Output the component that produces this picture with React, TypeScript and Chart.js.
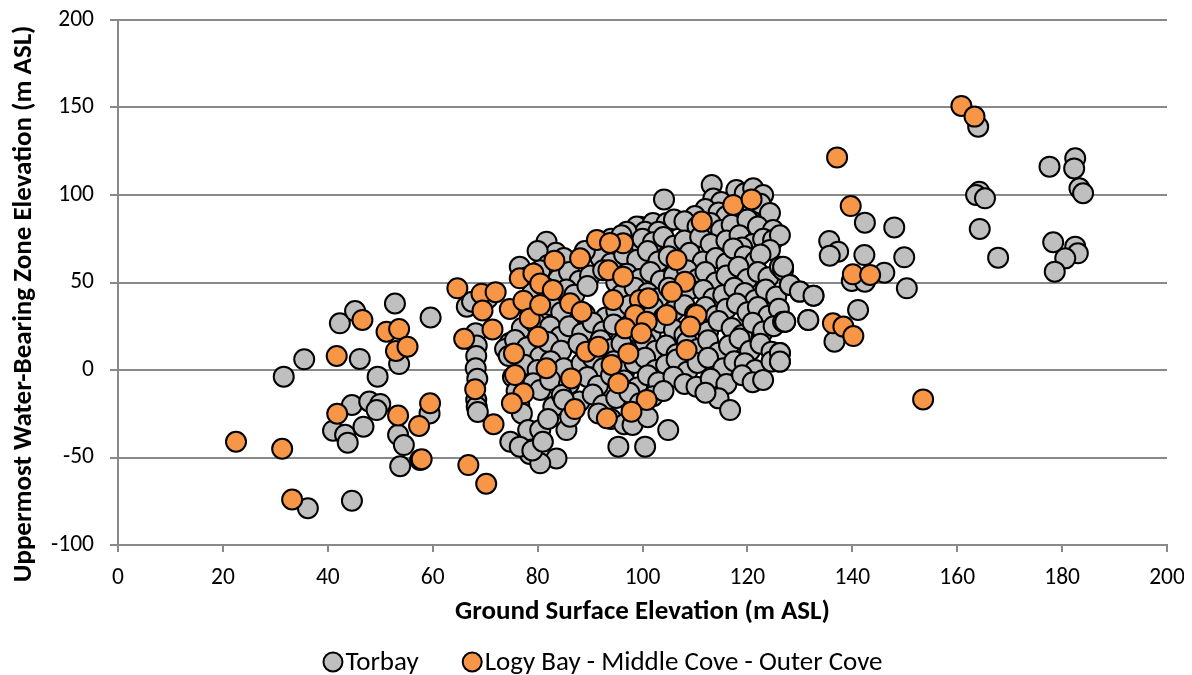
import React, { useEffect, useRef } from "react";
import { Chart, registerables } from "chart.js";

Chart.register(...registerables);

const xTickStep = 20;
const yTickStep = 50;
const xRange = [0, 200];
const yRange = [-100, 200];

const xTitle = "Ground Surface Elevation (m ASL)";
const yTitle = "Uppermost Water-Bearing Zone Elevation (m ASL)";
const seriesNames = ["Torbay", "Logy Bay - Middle Cove - Outer Cove"];

// Torbay: [ground surface elevation, water-bearing zone elevation]
const torbayPoints: [number, number][] = [
  [31.6, -3.8], [35.5, 6.1], [36.2, -79], [44.6, -74.7], [42.3, 26.7], [45.2, 33.7], [52.8, 38], [59.6, 30],
  [46.1, 6.3], [53.6, 3.4], [49.5, -3.8], [44.6, -20], [47.9, -18], [50, -19.4], [49.3, -22.9], [41, -34.7],
  [43.3, -37], [43.8, -41.5], [46.8, -32.4], [53.4, -37], [54.5, -42.9], [53.8, -55], [57.6, -51.4], [59.4, -24.8],
  [66.5, 36.2], [67.5, 39], [70.5, 41], [68.2, 21], [68.4, 14], [68.3, 8], [68.2, 1], [68.5, -5], [68.3, -17],
  [68.4, -21], [68.6, -24], [74.7, 15.4], [73.8, 12], [74.5, 8], [75.3, -4], [76.6, -9.7], [76, -12], [76.5, -20],
  [74.8, -41], [78.5, -48],
  [113.2, 105.7], [117.9, 102.9], [119.5, 101], [121.1, 103.8], [123, 100], [113.5, 98], [115, 96],
  [104.1, 97.5], [112, 92], [114.5, 90], [116, 88], [119, 91], [121, 93], [122.5, 95], [124.3, 89.7], [110, 88],
  [99.5, 81.9], [98.9, 82], [102, 84], [104.6, 84], [106, 86], [108, 85], [110.5, 82], [113, 84], [115, 80],
  [117, 83], [120, 86], [122, 82], [124.9, 80], [100.5, 79], [97, 79], [103, 79],
  [81.7, 73.3], [94, 75], [96, 77], [98, 71], [100, 75], [102, 73], [104, 76], [106, 71], [108, 74], [111, 76],
  [113, 72], [116, 74], [118.5, 77], [121, 72], [123, 75], [124.9, 74.3], [119, 70], [126.2, 77],
  [92, 64], [94, 61], [96.5, 66], [99, 63], [101, 68], [103, 62], [105, 65], [107, 60], [109, 67], [111.5, 62],
  [114, 64], [116, 61], [117.3, 69.5], [119.5, 65], [121.5, 62], [124.3, 68.6], [122.5, 66], [76.6, 59],
  [83.5, 67], [85, 64], [80, 68], [82, 60], [89, 68],
  [78, 53], [80.5, 57], [84, 52], [86, 56], [88, 51], [90, 54], [92.5, 57], [95, 50], [97, 55], [99.5, 52],
  [101.5, 56], [103.5, 51], [106, 54], [108.5, 57], [110.5, 52], [112, 56], [114, 50], [116, 54], [118.3, 59],
  [120, 52], [122, 56], [124, 53], [126.2, 59], [126.8, 57],
  [79, 44], [81.5, 47], [83.5, 41], [85.5, 46], [87, 43], [89.5, 48], [96, 43], [98.5, 47], [101, 44],
  [103, 41], [105, 47], [107, 42], [109, 46], [111.6, 45.7], [113.5, 41], [115.4, 42.9], [117.5, 47], [119.5, 44],
  [121.5, 40], [123.5, 46], [125.5, 42], [128.1, 48.6], [130, 44.8], [132.6, 42.5],
  [78.5, 35], [80.5, 31], [82.5, 37], [84.5, 33], [89, 32], [93, 30], [95, 34], [97.5, 37], [99.5, 33],
  [102, 36], [104, 30], [106, 34], [108, 37], [110, 32], [112, 36], [114, 31], [116, 35], [118, 38], [120, 33],
  [122, 36], [124, 31], [126, 35],
  [77, 24], [79.5, 27], [82.4, 24.8], [84.3, 19], [86, 25], [88.5, 21], [90.5, 27], [92.5, 22], [94.5, 26],
  [97, 21], [99, 25], [101.5, 20], [103.5, 27], [106, 23], [108, 20], [110, 26], [112.5, 22], [114.5, 28],
  [117, 24], [119, 20], [121, 27], [123, 22], [125, 25], [126.8, 27.6], [127.2, 27.6], [131.6, 28.6],
  [75.7, 17.1], [78, 13], [80.5, 7.6], [82, 16], [84.5, 11], [87.8, 15.2], [90, 10], [92, 17], [94, 12], [96, 15],
  [98.5, 10], [100.5, 16], [102.5, 11], [104.5, 14], [106.5, 9], [108.5, 16], [110.5, 12], [112.5, 17],
  [114.5, 10], [116.5, 14], [118.5, 18], [120.5, 11], [122.5, 15], [124.6, 10.5], [126.2, 9.7],
  [77.5, 3], [80, 0], [82.5, 5], [85, 1], [88.4, 3.8], [90.5, 7], [92.5, 1], [94.5, 5], [96.5, -1], [98.5, 4],
  [100.5, 7], [102.5, 0], [104.5, 3], [106.5, 6], [108.5, -1], [110.5, 4], [112.5, 7], [115.4, 1], [117.5, 5],
  [119.5, 3.8], [121.5, 0], [124.6, 4.8], [126.2, 4.8],
  [79.2, -7.6], [80.5, -11.4], [82.4, -5.7], [86, -8], [89.5, -4], [91.5, -9], [94, -3], [96.5, -6], [99, -10],
  [101, -3], [103, -7], [105.9, -3.8], [108, -8], [110.3, -9.5], [113, -5], [116, -8], [119, -3], [121, -7],
  [123, -5.7],
  [77, -24.8], [83, -21], [84.6, -14.3], [88, -18], [90.5, -14], [92.5, -20], [95, -16], [97.5, -13],
  [99.5, -19], [102, -15], [104, -12], [114.5, -16.2], [116.7, -22.9], [112, -13], [85, -17],
  [78.2, -34.3], [80.5, -34.3], [85.5, -34.3], [86.2, -26.7], [91.6, -24.8], [94, -28], [96.5, -31],
  [98.1, -31.4], [101, -27], [104.9, -34.3], [82, -28],
  [76.6, -43.8], [83.6, -50.5], [80.5, -53.3], [95.4, -43.8], [100.5, -43.8], [79, -46], [81, -41],
  [164, 139], [177.6, 116.2], [182.5, 121], [182.3, 115.2], [183.3, 103.8], [184, 101], [164.2, 101.9],
  [163.6, 100], [165.3, 98.1], [164.3, 80.6], [167.8, 64.2], [178.3, 73], [182.5, 70.5], [183, 66.7],
  [180.6, 63.8], [178.6, 56.2], [142.4, 84.2], [148, 81.5], [135.6, 73.7], [137.3, 67.6], [135.7, 65.3],
  [142.3, 65.7], [149.9, 64.4], [146.1, 55.6], [139.9, 50.9], [142.4, 50.5], [150.4, 46.7], [141.1, 34.3],
  [136.6, 16.2], [126.8, 59], [128.1, 48.6], [130, 44.8], [132.6, 42.5], [131.6, 28.6], [127.2, 27.6],
  [126.2, 9.7], [126.2, 4.8],
];

// Logy Bay - Middle Cove - Outer Cove
const logyPoints: [number, number][] = [
  [22.5, -41], [31.3, -45], [33.2, -74], [41.7, 8], [41.8, -25], [46.6, 28.6], [51.2, 21.9], [53.6, 23.4],
  [53, 10.9], [55.2, 13.3], [53.4, -26], [57.9, -51], [59.5, -19], [57.4, -32], [66.8, -54.3], [70.2, -65],
  [64.7, 46.7], [69.3, 43.6], [72, 44.5], [69.5, 34], [66, 17.8], [68.1, -11], [71.6, -31], [71.4, 23.2],
  [74.7, 34.9], [77.3, 39.6], [78.5, 29.5], [76.6, 52.4], [79.2, 55.2], [80.5, 49.5], [83.2, 62.5],
  [82.9, 45.7], [80.5, 37.1], [86.2, 38.1], [88.4, 33.3], [88.1, 63.8], [91.3, 74.3], [80.1, 19], [75.5, 9.5],
  [75.7, -2.9], [77.3, -13.3], [75.1, -19], [81.7, 1], [86.4, -4.8], [87.1, -22.3], [89.3, 10.5], [91.6, 13.3],
  [96.3, 72.4], [93.8, 72.6], [106.5, 62.9], [93.5, 57], [96.3, 53.3], [108.1, 50.5], [105.6, 44.7],
  [94.4, 40], [99.5, 40], [101.1, 41], [98.6, 31.4], [100.8, 27.6], [104.6, 31.4], [110.3, 31.4], [96.7, 23.8],
  [99.8, 21], [109.1, 24.8], [97.3, 9.5], [108.4, 11.4], [94.1, 2.9], [95.4, -7.6], [100.8, -17.1],
  [97.9, -23.8], [93.2, -27.6], [117.3, 94.3], [120.8, 97.5], [111.3, 84.8], [160.8, 150.9], [163.3, 144.8],
  [137.1, 121.5], [139.7, 93.7], [140.1, 54.7], [143.4, 54.3], [136.3, 26.7], [138.3, 24.8], [140.2, 19.4],
  [153.5, -16.8],
];

const torbayColor = "#BFBFBF";
const logyColor = "#F79646";
const gridColor = "#898989";
const FONT = "Carlito, Lato, 'Liberation Sans', sans-serif";

export default function App() {
  const canvasRef = useRef<HTMLCanvasElement | null>(null);

  useEffect(() => {
    const canvas = canvasRef.current;
    if (!canvas) return;

    const legendPlugin = {
      id: "customLegend",
      afterDraw(chart: any) {
        const ctx = chart.ctx;
        ctx.save();
        ctx.font = `27px ${FONT}`;
        ctx.textBaseline = "middle";
        const r = 9.5;
        const gapMarkerText = 3;
        const gapItems = 44;
        const items = chart.data.datasets.map((d: any) => ({
          label: d.label,
          color: d.backgroundColor,
          w: ctx.measureText(d.label).width,
        }));
        let total = 0;
        items.forEach((it: any, i: number) => {
          total += 2 * r + gapMarkerText + it.w + (i < items.length - 1 ? gapItems : 0);
        });
        let x = 595 - total / 2;
        const y = 654;
        items.forEach((it: any) => {
          ctx.beginPath();
          ctx.arc(x + r, y, r, 0, Math.PI * 2);
          ctx.fillStyle = it.color;
          ctx.fill();
          ctx.lineWidth = 2;
          ctx.strokeStyle = "#000";
          ctx.stroke();
          x += 2 * r + gapMarkerText;
          ctx.fillStyle = "#000";
          ctx.textAlign = "left";
          ctx.fillText(it.label, x, y + 1);
          x += it.w + gapItems;
        });
        ctx.restore();
      },
    };

    const chart = new Chart(canvas, {
      type: "scatter",
      data: {
        datasets: [
          {
            label: seriesNames[0],
            data: torbayPoints.map(([x, y]) => ({ x, y })),
            backgroundColor: torbayColor,
            borderColor: "#000",
            borderWidth: 2,
            pointRadius: 10,
            order: 1,
          },
          {
            label: seriesNames[1],
            data: logyPoints.map(([x, y]) => ({ x, y })),
            backgroundColor: logyColor,
            borderColor: "#000",
            borderWidth: 2,
            pointRadius: 10,
            order: 0,
          },
        ],
      },
      options: {
        animation: false,
        responsive: true,
        maintainAspectRatio: false,
        layout: { padding: { top: 12, right: 17, bottom: 40, left: 0 } },
        plugins: {
          legend: { display: false },
          tooltip: { enabled: false },
        },
        scales: {
          x: {
            type: "linear",
            min: xRange[0],
            max: xRange[1],
            ticks: { stepSize: xTickStep, color: "#000", font: { family: FONT, size: 23.5 }, padding: 12, maxRotation: 0 },
            grid: { display: true, drawOnChartArea: false, drawTicks: true, tickLength: 7, color: gridColor, lineWidth: 2 },
            border: { display: true, color: gridColor, width: 2 },
            title: {
              display: true,
              text: xTitle,
              color: "#000",
              font: { family: FONT, size: 27, weight: "bold" },
              padding: { top: 0, bottom: 7 },
            },
            afterFit: (s: any) => {
              s.height = 90;
              s.paddingLeft = 0;
              s.paddingRight = 0;
            },
          },
          y: {
            type: "linear",
            min: yRange[0],
            max: yRange[1],
            ticks: { stepSize: yTickStep, color: "#000", font: { family: FONT, size: 23.5 }, padding: 16 },
            grid: { display: true, drawTicks: true, tickLength: 8, color: gridColor, lineWidth: 2 },
            border: { display: true, color: gridColor, width: 2 },
            title: {
              display: true,
              text: yTitle + "       ",
              color: "#000",
              font: { family: FONT, size: 27, weight: "bold" },
              padding: { top: 0, bottom: 0 },
            },
            afterFit: (s: any) => {
              s.width = 110;
              s.paddingTop = 0;
              s.paddingBottom = 0;
            },
          },
        },
      },
      plugins: [legendPlugin],
    });

    return () => chart.destroy();
  }, []);

  return (
    <div style={{ width: 1176, height: 667, position: "relative" }}>
      <canvas ref={canvasRef} />
    </div>
  );
}
